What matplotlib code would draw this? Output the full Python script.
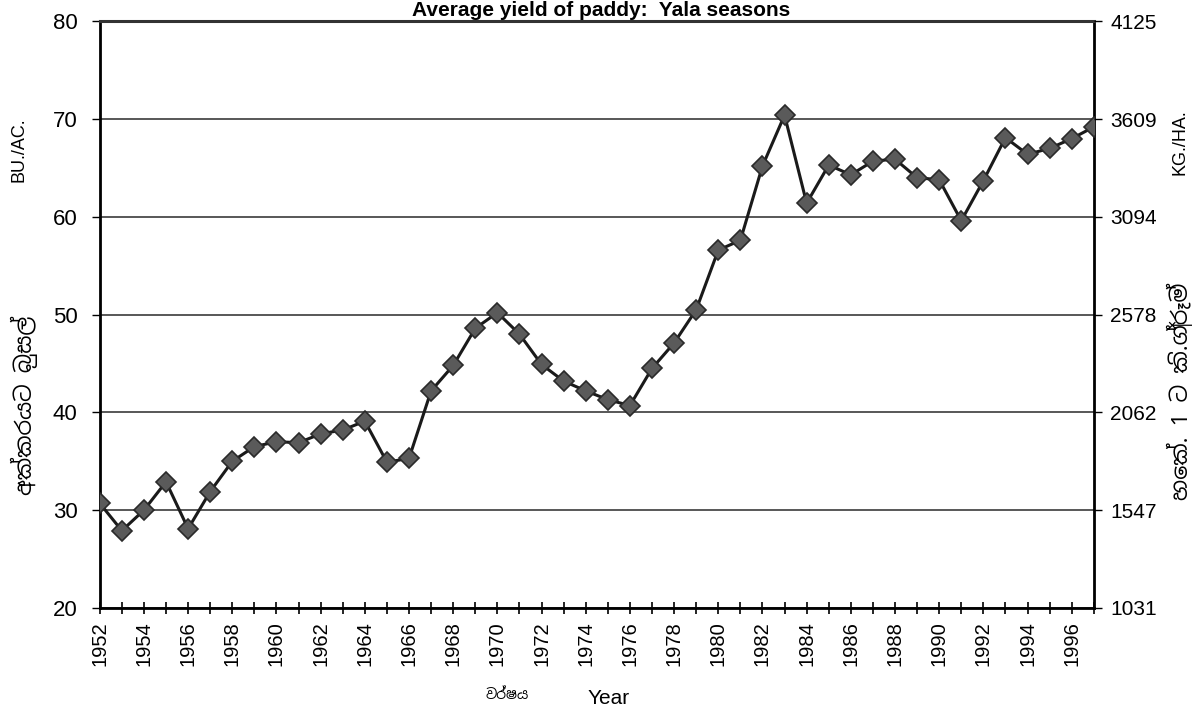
import numpy as np
import matplotlib
matplotlib.use("Agg")
import matplotlib.pyplot as plt
from matplotlib import font_manager

# ── data ────────────────────────────────────────────────────────────────────
years = list(range(1952, 1998))
yield_bu_ac = [30.7, 27.9, 30.0, 32.9, 28.1, 31.9, 35.0, 36.5, 37.0, 36.9,
               37.8, 38.2, 39.1, 34.9, 35.3, 42.2, 44.8, 48.6, 50.2, 48.0,
               44.9, 43.2, 42.2, 41.3, 40.7, 44.5, 47.1, 50.5, 56.6, 57.6,
               65.2, 70.4, 61.4, 65.3, 64.3, 65.7, 65.9, 64.0, 63.8, 59.6,
               63.7, 68.1, 66.4, 67.0, 68.0, 69.2]
bu_ticks = [20, 30, 40, 50, 60, 70, 80]
kg_ticks = [1031, 1547, 2062, 2578, 3094, 3609, 4125]

title = "Average yield of paddy:  Yala seasons"
left_unit = "BU./AC."
left_si = "අක්කරයට බුසල්"
right_unit = "KG./HA."
right_si = "හෙක්. 1 ට කි.ග්‍රෑම්"
x_si = "වර්ෂය"
x_en = "Year"

# pick a font with Sinhala glyphs if one is installed
si_family = ["DejaVu Sans"]
for f in font_manager.fontManager.ttflist:
    if "Sinhala" in f.name:
        si_family = [f.name, "DejaVu Sans"]
        break

plt.rcParams["font.family"] = ["Liberation Sans", "DejaVu Sans"]

fig = plt.figure(figsize=(12.02, 7.11), dpi=100)
ax = fig.add_axes([0.083, 0.145, 0.827, 0.825])

ax.plot(years, yield_bu_ac, "-", color="#1a1a1a", lw=2.2, zorder=3)
ax.plot(years, yield_bu_ac, "D", ms=10, mfc="#5a5a5a", mec="#2a2a2a",
        mew=1.2, zorder=4)

ax.set_xlim(1952, 1997)
ax.set_ylim(20, 80)
ax.set_yticks(bu_ticks)
ax.yaxis.grid(True, color="#4a4a4a", lw=1.3)
ax.set_axisbelow(True)

ax.set_xticks(years)
ax.set_xticklabels([str(y) if (y % 2 == 0 and y < 1997) else "" for y in years],
                   rotation=90, fontsize=14.5)
ax.tick_params(axis="x", direction="inout", length=9, width=1.2, pad=5)
ax.tick_params(axis="y", direction="out", length=6, width=1, labelsize=16, pad=10)

for side in ["left", "bottom", "right"]:
    ax.spines[side].set_linewidth(2)
ax.spines["top"].set_linewidth(2.2)
ax.spines["top"].set_color("#333333")

ax2 = ax.twinx()
ax2.set_ylim(kg_ticks[0], kg_ticks[-1])
ax2.set_yticks(kg_ticks)
ax2.tick_params(axis="y", direction="out", length=6, width=1, labelsize=15, pad=6)
for side in ["left", "bottom", "right", "top"]:
    ax2.spines[side].set_visible(False)

fig.text(0.5, 0.999, title, ha="center", va="top", fontsize=15,
         fontweight="bold")

fig.text(0.016, 0.79, left_unit, rotation=90, ha="center", va="center",
         fontsize=13)
fig.text(0.02, 0.43, left_si, rotation=90, ha="center", va="center",
         fontsize=16, fontweight="bold", family=si_family)
fig.text(0.982, 0.8, right_unit, rotation=90, ha="center", va="center",
         fontsize=13)
fig.text(0.982, 0.45, right_si, rotation=90, ha="center", va="center",
         fontsize=16, fontweight="bold", family=si_family)
fig.text(0.422, 0.022, x_si, ha="center", va="center", fontsize=10,
         family=si_family)
fig.text(0.506, 0.018, x_en, ha="center", va="center", fontsize=15)

fig.savefig("out.png", dpi=100)
